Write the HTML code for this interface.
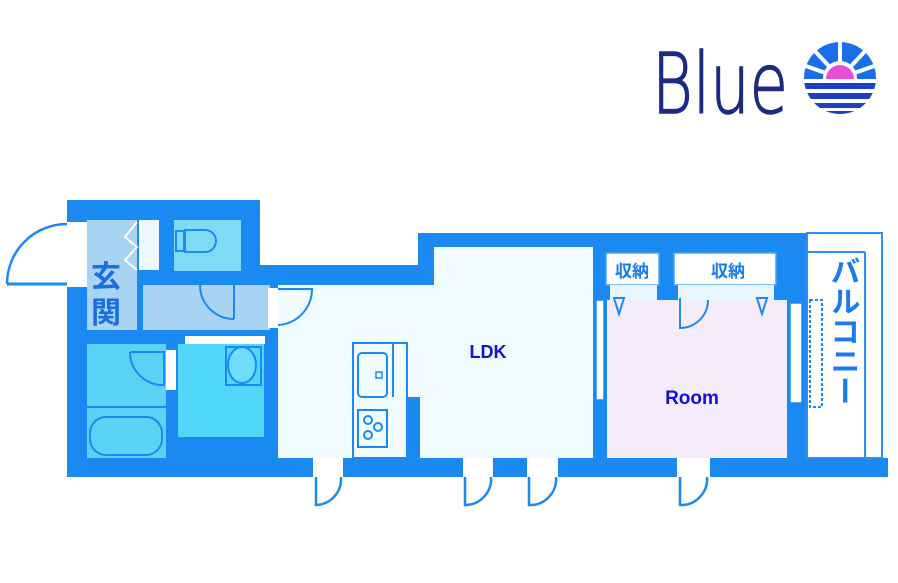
<!DOCTYPE html>
<html><head><meta charset="utf-8"><style>
html,body{margin:0;padding:0;background:#fff;width:898px;height:583px;overflow:hidden}
svg{display:block}
</style></head><body>
<svg width="898" height="583" viewBox="0 0 898 583" xmlns="http://www.w3.org/2000/svg">
<defs>
<clipPath id="lc"><circle cx="840" cy="78" r="36"/></clipPath>
</defs>
<!-- Logo -->
<text x="652" y="113" font-family="DejaVu Sans, Liberation Sans, sans-serif" font-size="84" fill="#1c2a80" stroke="#1c2a80" stroke-width="1.5" textLength="136" lengthAdjust="spacingAndGlyphs" style="font-weight:200">Blue</text>
<g clip-path="url(#lc)">
<rect x="800" y="40" width="80" height="40" fill="#1a6ee8"/>
<g stroke="#fff" stroke-width="4">
<line x1="840" y1="78" x2="840" y2="38"/><line x1="840" y1="78" x2="812" y2="48"/><line x1="840" y1="78" x2="868" y2="48"/>
<line x1="840" y1="78" x2="800" y2="64"/><line x1="840" y1="78" x2="880" y2="64"/>
</g>
<circle cx="840" cy="78" r="17" fill="#fff"/>
<circle cx="840" cy="79" r="14" fill="#e84fd8"/>
<rect x="800" y="79" width="80" height="40" fill="#fff"/>
<rect x="800" y="83" width="80" height="6" fill="#1a3fc0"/>
<rect x="800" y="93" width="80" height="6" fill="#1a3fc0"/>
<rect x="800" y="103" width="80" height="5" fill="#1a3fc0"/>
<rect x="800" y="111" width="80" height="5" fill="#1a3fc0"/>
</g>

<!-- Main blue walls -->
<polygon points="67,200 260,200 260,265 418,265 418,233 807,233 807,458 888,458 888,477 67,477" fill="#1a8af2"/>
<!-- Balcony -->
<rect x="807" y="233" width="75" height="225" fill="#fff" stroke="#2a90f5" stroke-width="2"/>
<line x1="865" y1="252" x2="865" y2="458" stroke="#2a90f5" stroke-width="2"/>
<line x1="807" y1="252" x2="865" y2="252" stroke="#2a90f5" stroke-width="2"/>
<rect x="810" y="300" width="12" height="107" fill="none" stroke="#1a8af2" stroke-width="2" stroke-dasharray="3,2"/>
<text font-family="Liberation Sans, Noto Sans CJK JP, sans-serif" font-size="30" font-weight="bold" fill="#1a7af0" style="writing-mode:vertical-rl" x="842" y="256">バルコニー</text>

<!-- Entrance opening & door -->
<rect x="67" y="222" width="20" height="65" fill="#fff"/>
<path d="M7,284 A60,60 0 0 1 67,224" fill="none" stroke="#1a8af2" stroke-width="2.5"/>
<line x1="7" y1="284" x2="67" y2="284" stroke="#1a8af2" stroke-width="3"/>
<!-- Genkan -->
<rect x="87" y="220" width="50" height="110" fill="#a9d3f2"/>
<rect x="139" y="220" width="20" height="50" fill="#eef8ff"/>
<path d="M137,222 L125,237 L137,247 L125,260 L137,270" fill="none" stroke="#fff" stroke-width="2"/>
<text font-family="Liberation Sans, Noto Sans CJK JP, sans-serif" font-size="30" fill="#1a6fe0" font-weight="bold" x="91" y="287">玄</text>
<text font-family="Liberation Sans, Noto Sans CJK JP, sans-serif" font-size="30" fill="#1a6fe0" font-weight="bold" x="91" y="323">関</text>
<!-- Toilet -->
<rect x="174" y="220" width="67" height="51" fill="#80daf5"/>
<rect x="176" y="231" width="8" height="20" fill="none" stroke="#1a8af2" stroke-width="2"/>
<path d="M185,230 L205,230 A10,10 0 0 1 205,252 L185,252 Z" fill="none" stroke="#1a8af2" stroke-width="2"/>
<!-- Hallway -->
<rect x="143" y="285" width="127" height="45" fill="#a9d3f2"/>
<path d="M200,285 A34,34 0 0 0 234,319" fill="none" stroke="#1a8af2" stroke-width="2"/>
<line x1="234" y1="285" x2="234" y2="319" stroke="#1a8af2" stroke-width="2"/>
<rect x="268" y="288" width="10" height="40" fill="#fff"/>
<!-- Wash/bath -->
<rect x="87" y="344" width="79" height="114" fill="#5cd1f6"/>
<line x1="87" y1="407" x2="166" y2="407" stroke="#1a8af2" stroke-width="2"/>
<rect x="90" y="417" width="72" height="38" rx="16" fill="none" stroke="#1a8af2" stroke-width="2"/>
<path d="M130,352 L164,352 L164,385 A33,33 0 0 1 130,352" fill="none" stroke="#1a8af2" stroke-width="2"/>
<rect x="166" y="350" width="10" height="40" fill="#fff"/>
<!-- Laundry room -->
<rect x="178" y="344" width="86" height="93" fill="#50d6f8"/>
<rect x="185" y="336" width="80" height="8" fill="#fff"/>
<rect x="226" y="347" width="35" height="38" fill="none" stroke="#1a8af2" stroke-width="2"/>
<ellipse cx="242" cy="365" rx="14" ry="18" fill="#70dcf8" stroke="#1a8af2" stroke-width="2"/>
<!-- LDK -->
<polygon points="278,285 434,285 434,247 593,247 593,458 278,458" fill="#f0fbff"/>
<path d="M278,289 L312,289 A36,36 0 0 1 278,325" fill="none" stroke="#1a8af2" stroke-width="2"/>
<rect x="395" y="397" width="25" height="61" fill="#1a8af2"/>
<rect x="353" y="343" width="54" height="115" fill="#f0fbff" stroke="#1a8af2" stroke-width="2"/>
<line x1="393" y1="343" x2="393" y2="397" stroke="#1a8af2" stroke-width="2"/>
<rect x="358" y="353" width="29" height="44" rx="4" fill="none" stroke="#1a8af2" stroke-width="2"/>
<rect x="376" y="372" width="6" height="6" fill="none" stroke="#1a8af2" stroke-width="1.5"/>
<rect x="358" y="410" width="29" height="37" fill="none" stroke="#1a8af2" stroke-width="2"/>
<circle cx="368" cy="420" r="4" fill="none" stroke="#1a8af2" stroke-width="2"/>
<circle cx="378" cy="427" r="4" fill="none" stroke="#1a8af2" stroke-width="2"/>
<circle cx="368" cy="435" r="4" fill="none" stroke="#1a8af2" stroke-width="2"/>
<text x="488" y="358" font-family="Liberation Sans, sans-serif" font-size="18" font-weight="bold" fill="#1010d8" text-anchor="middle">LDK</text>
<!-- windows between -->
<rect x="596" y="300" width="8" height="100" fill="#fff" stroke="#1a8af2" stroke-width="1.5"/>
<rect x="790" y="303" width="12" height="100" fill="#fff" stroke="#1a8af2" stroke-width="1.5"/>
<!-- Room -->
<rect x="607" y="300" width="180" height="158" fill="#f4ecfb"/>
<text x="692" y="404" font-family="Liberation Sans, sans-serif" font-size="19" font-weight="bold" fill="#1010d8" text-anchor="middle">Room</text>
<!-- Storage -->
<rect x="606" y="253" width="53" height="32" fill="#fff" stroke="#4aa5f8" stroke-width="1.5"/>
<rect x="674" y="253" width="102" height="32" fill="#fff" stroke="#4aa5f8" stroke-width="1.5"/>
<text x="632" y="277" font-family="Liberation Sans, Noto Sans CJK JP, sans-serif" font-size="17" font-weight="bold" fill="#1a7af0" text-anchor="middle">収納</text>
<text x="728" y="277" font-family="Liberation Sans, Noto Sans CJK JP, sans-serif" font-size="17" font-weight="bold" fill="#1a7af0" text-anchor="middle">収納</text>
<rect x="610" y="285" width="47" height="15" fill="#eaf6ff"/>
<rect x="678" y="285" width="96" height="15" fill="#eaf6ff"/>
<path d="M614,298 L624,298 L619,314 Z M757,298 L767,298 L762,314 Z" fill="none" stroke="#1a8af2" stroke-width="2"/>
<path d="M680,298 L680,328 A28,28 0 0 0 708,300" fill="none" stroke="#1a8af2" stroke-width="2"/>
<!-- Bottom doors -->
<g fill="none" stroke="#1a8af2" stroke-width="2.5">
<rect x="313" y="458" width="30" height="19" fill="#fff" stroke="none"/>
<path d="M316,477 L316,505 A26,26 0 0 0 341,477"/>
<rect x="463" y="458" width="30" height="19" fill="#fff" stroke="none"/>
<path d="M465,477 L465,505 A26,26 0 0 0 491,477"/>
<rect x="527" y="458" width="31" height="19" fill="#fff" stroke="none"/>
<path d="M529,477 L529,505 A26,26 0 0 0 556,477"/>
<rect x="677" y="458" width="33" height="19" fill="#fff" stroke="none"/>
<path d="M680,477 L680,505 A26,26 0 0 0 707,477"/>
</g>
</svg>
</body></html>
